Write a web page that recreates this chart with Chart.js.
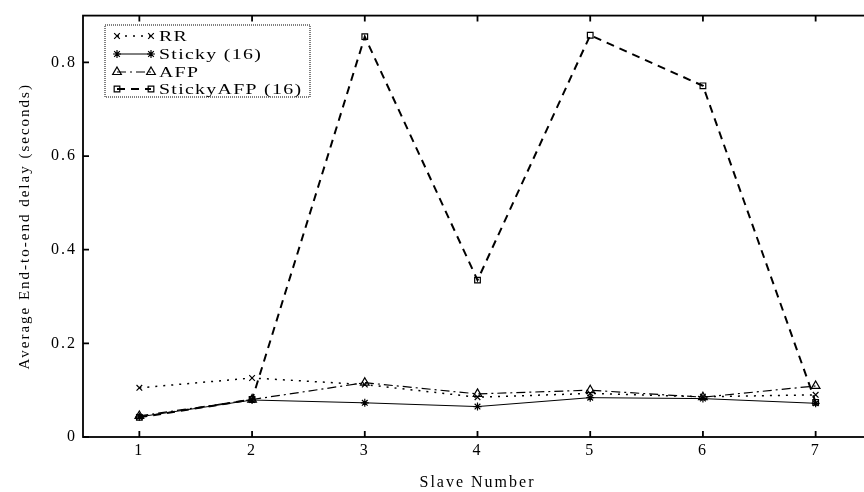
<!DOCTYPE html>
<html>
<head>
<meta charset="utf-8">
<script src="https://cdn.jsdelivr.net/npm/chart.js@4/dist/chart.umd.min.js"></script>
<style>
  html, body { margin: 0; padding: 0; background: #fff; overflow: hidden; }
  #wrap { position: absolute; left: 0; top: 0; width: 880px; height: 492px; }
</style>
</head>
<body>
<div id="wrap"><canvas id="delayChart" width="880" height="492"></canvas></div>
<script>
// data
const slaves = ['1', '2', '3', '4', '5', '6', '7'];
const rr = [0.105, 0.126, 0.112, 0.085, 0.093, 0.086, 0.090];
const sticky = [0.043, 0.079, 0.073, 0.065, 0.084, 0.082, 0.072];
const afp = [0.045, 0.080, 0.116, 0.092, 0.100, 0.085, 0.109];
const stickyAfp = [0.042, 0.080, 0.855, 0.335, 0.858, 0.750, 0.074];
const yTicks = [0, 0.2, 0.4, 0.6, 0.8];

const serif = 'Liberation Serif';

// inward tick marks + frame
const frameTicks = {
    id: 'frameTicks',
    beforeDraw(chart) {
        chart.ctx.letterSpacing = '2px';
    },
    afterDraw(chart) {
        const { ctx, chartArea: a, scales: { x, y } } = chart;
        ctx.save();
        ctx.strokeStyle = '#000';
        ctx.lineWidth = 1.8;
        ctx.strokeRect(a.left, a.top, a.right - a.left, a.bottom - a.top);
        ctx.beginPath();
        x.ticks.forEach((t, i) => {
            const px = x.getPixelForTick(i);
            ctx.moveTo(px, a.bottom); ctx.lineTo(px, a.bottom - 6);
            ctx.moveTo(px, a.top); ctx.lineTo(px, a.top + 6);
        });
        y.ticks.forEach(t => {
            const py = y.getPixelForValue(t.value);
            ctx.moveTo(a.left, py); ctx.lineTo(a.left + 6, py);
            ctx.moveTo(a.right, py); ctx.lineTo(a.right - 6, py);
        });
        ctx.stroke();
        ctx.restore();
    }
};

// legend drawn like the original: marker - line - marker, then label
const sampleLegend = {
    id: 'sampleLegend',
    afterDraw(chart) {
        const ctx = chart.ctx;
        ctx.save();
        ctx.letterSpacing = '1px';
        ctx.strokeStyle = '#000';
        ctx.lineWidth = 1;
        ctx.setLineDash([1, 1]);
        ctx.strokeRect(105, 25, 205, 72);
        ctx.setLineDash([]);
        const rows = [36, 54, 72, 89];
        chart.data.datasets.forEach((ds, i) => {
            const yy = rows[i];
            ctx.save();
            ctx.lineWidth = ds.borderWidth;
            ctx.setLineDash(ds.borderDash || []);
            ctx.beginPath();
            ctx.moveTo(117, yy); ctx.lineTo(151, yy);
            ctx.stroke();
            ctx.setLineDash([]);
            ctx.lineWidth = 1.2;
            ctx.fillStyle = ds.pointBackgroundColor;
            [117, 151].forEach(px => {
                Chart.helpers.drawPoint(ctx, {
                    pointStyle: ds.pointStyle, radius: ds.pointRadius,
                    rotation: 0, borderWidth: 1.2
                }, px, yy);
            });
            ctx.restore();
            ctx.save();
            ctx.fillStyle = '#000';
            ctx.font = '15px "' + serif + '"';
            ctx.textBaseline = 'middle';
            ctx.translate(159, yy + 1);
            ctx.scale(1.32, 1);
            ctx.fillText(ds.label, 0, 0);
            ctx.restore();
        });
        ctx.restore();
    }
};

Chart.defaults.color = '#000';
Chart.defaults.font.family = serif;

const ctx = document.getElementById('delayChart').getContext('2d');
const delayChart = new Chart(ctx, {
    type: 'line',
    data: {
        labels: slaves,
        datasets: [{
            label: 'RR',
            data: rr,
            borderColor: '#000',
            borderWidth: 1.5,
            borderDash: [2, 6],
            pointStyle: 'crossRot',
            pointRadius: 4,
            pointBorderColor: '#000',
            pointBackgroundColor: '#000',
            pointBorderWidth: 1.2
        }, {
            label: 'Sticky (16)',
            data: sticky,
            borderColor: '#000',
            borderWidth: 1,
            borderDash: [],
            pointStyle: 'star',
            pointRadius: 4,
            pointBorderColor: '#000',
            pointBackgroundColor: '#000',
            pointBorderWidth: 1.2
        }, {
            label: 'AFP',
            data: afp,
            borderColor: '#000',
            borderWidth: 1.2,
            borderDash: [9, 4, 2, 4],
            pointStyle: 'triangle',
            pointRadius: 5,
            pointBorderColor: '#000',
            pointBackgroundColor: 'rgba(0,0,0,0)',
            pointBorderWidth: 1.2
        }, {
            label: 'StickyAFP (16)',
            data: stickyAfp,
            borderColor: '#000',
            borderWidth: 2,
            borderDash: [8, 6],
            pointStyle: 'rect',
            pointRadius: 4,
            pointBorderColor: '#000',
            pointBackgroundColor: 'rgba(0,0,0,0)',
            pointBorderWidth: 1.2
        }]
    },
    options: {
        responsive: false,
        animation: false,
        layout: { padding: { top: 7, right: 8, bottom: 0, left: 0 } },
        plugins: {
            legend: { display: false },
            tooltip: { enabled: false }
        },
        elements: { line: { tension: 0 } },
        scales: {
            x: {
                type: 'category',
                offset: true,
                grid: { display: false, drawTicks: false },
                border: { display: false },
                ticks: { font: { size: 16 }, padding: 4, maxRotation: 0 },
                title: { display: true, text: 'Slave Number', font: { size: 16 }, padding: { top: 0, bottom: 0 } },
                afterFit(scale) { scale.height = 55; }
            },
            y: {
                min: 0,
                max: 0.9,
                grid: { display: false, drawTicks: false },
                border: { display: false },
                ticks: {
                    font: { size: 16 },
                    padding: 6,
                    callback: v => v === 0 ? '0' : v.toFixed(1)
                },
                afterBuildTicks(scale) { scale.ticks = yTicks.map(v => ({ value: v })); },
                title: { display: true, text: 'Average End-to-end delay (seconds)', font: { size: 15 }, padding: { top: 16, bottom: 0 } },
                afterFit(scale) { scale.width = 83; }
            }
        }
    },
    plugins: [frameTicks, sampleLegend]
});
</script>
</body>
</html>
